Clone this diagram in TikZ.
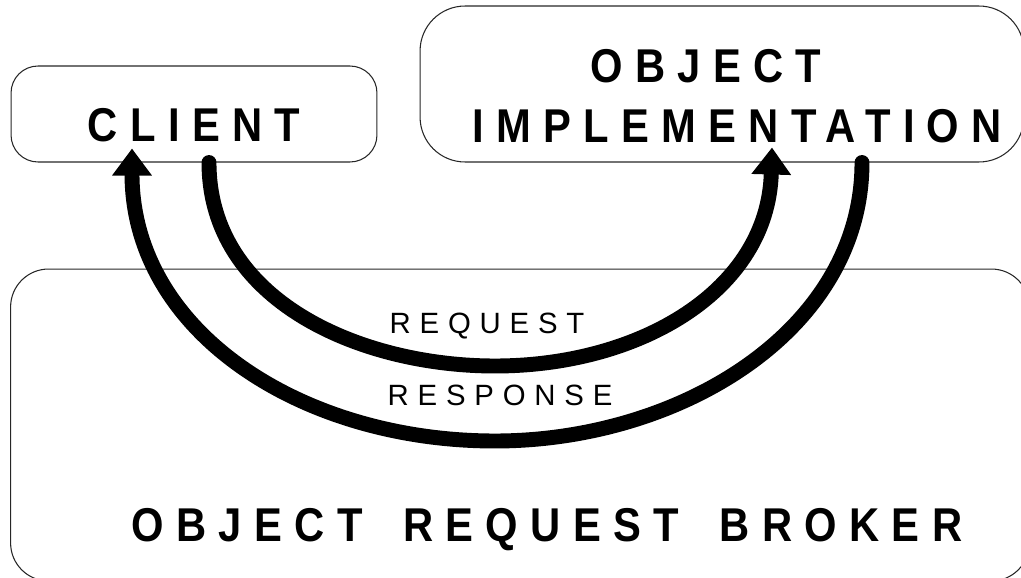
\documentclass[tikz,border=0pt]{standalone}
\usepackage{fontspec}
\setmainfont{Liberation Sans}
\newfontfamily\boxfont{Liberation Sans}[FakeStretch=0.88,LetterSpace=26,WordSpace=1.7]
\newfontfamily\flowfont{Liberation Sans}[LetterSpace=30]
\usetikzlibrary{arrows.meta,calc}

\begin{document}
\begin{tikzpicture}[
    x=0.02cm, y=-0.02cm,
    box/.style={rectangle, draw=black!85, line width=0.6pt, inner sep=0pt},
    title/.style={font=\boxfont\bfseries\fontsize{27}{32}\selectfont, anchor=base, inner sep=0pt},
    flowlabel/.style={font=\flowfont\fontsize{16.7}{20}\selectfont, anchor=base, inner sep=0pt},
    flow/.style={line width=8.5pt, line cap=round, -{Triangle[length=0.54cm, width=0.76cm]}}
  ]
    \useasboundingbox (0,0) rectangle (1021,578);

    % the three boxes
    \node[box, rounded corners=0.54cm, minimum width=7.32cm, minimum height=1.92cm] (client) at (194,114) {};
    \node[box, rounded corners=0.9cm, minimum width=12.08cm, minimum height=3.12cm] (impl) at (722,84) {};
    \node[box, rounded corners=0.76cm, minimum width=20.38cm, minimum height=6.24cm] (orb) at (520,425) {};

    \node[title] (clientlbl) at (194,141) {CLIENT};
    \node[title] (objlbl) at (706,82) {OBJECT};
    \node[title] (impllbl) at (737,142) {IMPLEMENTATION};
    \node[title] (orblbl) at (547,541) {OBJECT REQUEST BROKER};

    % lowest points of the two arcs
    \coordinate (reqlow) at (495,366);
    \coordinate (reslow) at (495,441);

    \node[flowlabel] (reqlbl) at (487,333) {REQUEST};
    \node[flowlabel] (reslbl) at (500,405) {RESPONSE};

    \draw[flow] ($(client.south)+(15,0)$) .. controls +(0,138) and +(-135,0) .. (reqlow)
      .. controls +(145,0) and +(-4,143) .. ($(impl.south)+(50,-15)$);
    \draw[flow] ($(impl.south)+(140,0)$) .. controls +(0,168) and +(185,0) .. (reslow)
      .. controls +(-195,0) and +(0,182) .. ($(client.south)+(-62,-14)$);
  \end{tikzpicture}
\end{document}
